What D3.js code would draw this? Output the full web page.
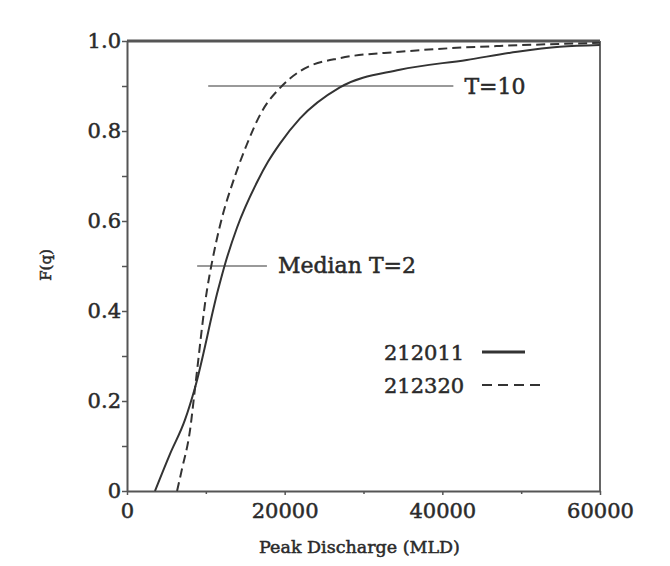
<!DOCTYPE html>
<html>
<head>
<meta charset="utf-8">
<script src="https://cdn.jsdelivr.net/npm/d3@7"></script>
<style>
  body { margin: 0; background: #fff; }
  text { font-family: "DejaVu Serif", serif; fill: #2a2a2a; stroke: #2a2a2a; stroke-width: 0.5px; }
</style>
</head>
<body>
<svg></svg>
<script>
// peak discharge (MLD) and cumulative probability F(q)
var q212011 = [3550, 5450, 7350, 8600, 11550, 12450, 13950, 16600, 17900, 19400, 21950, 27000, 34600, 43100, 49500, 54900, 60000];
var f212011 = [0, 0.082, 0.158, 0.228, 0.447, 0.505, 0.585, 0.69, 0.732, 0.772, 0.828, 0.897, 0.936, 0.958, 0.976, 0.987, 0.991];

var q212320 = [6350, 6950, 8000, 8600, 10150, 10800, 11800, 13700, 15200, 17000, 19650, 21950, 27000, 34600, 41000, 47300, 60000];
var f212320 = [0, 0.047, 0.136, 0.224, 0.447, 0.51, 0.59, 0.7, 0.77, 0.84, 0.9, 0.933, 0.962, 0.976, 0.984, 0.989, 0.996];

var xTicks = [0, 20000, 40000, 60000];
var xMinor = [10000, 30000, 50000];
var yTicks = [0, 0.2, 0.4, 0.6, 0.8, 1.0];
var yMinor = [0.1, 0.3, 0.5, 0.7, 0.9];

var seriesNames = ["212011", "212320"];

var viewWidth = 670, viewHeight = 566;
var margin = {top: 41, right: 70, bottom: 75, left: 127};
var width = viewWidth - margin.left - margin.right;
var height = viewHeight - margin.top - margin.bottom;

var svg = d3.select("svg")
    .attr("width", viewWidth)
    .attr("height", viewHeight)
    .append("g")
    .attr("transform", "translate(" + margin.left + "," + margin.top + ")");

var x = d3.scaleLinear().domain([0, 60000]).range([0, width]);
var y = d3.scaleLinear().domain([0, 1]).range([height, 0]);

// frame (top and right)
svg.append("line")
    .attr("x1", 0).attr("x2", width).attr("y1", 0).attr("y2", 0)
    .attr("stroke", "#555").attr("stroke-width", 3);
svg.append("line")
    .attr("x1", width).attr("x2", width).attr("y1", 0).attr("y2", height)
    .attr("stroke", "#666").attr("stroke-width", 2);

// minor ticks
svg.append("g")
    .attr("transform", "translate(0," + height + ")")
    .call(d3.axisBottom(x).tickValues(xMinor).tickSize(3).tickFormat(""))
    .call(g => g.select(".domain").remove());
svg.append("g")
    .call(d3.axisLeft(y).tickValues(yMinor).tickSize(5).tickFormat(""))
    .call(g => g.select(".domain").remove());

var xAxis = svg.append("g")
    .attr("transform", "translate(0," + height + ")")
    .call(d3.axisBottom(x).tickValues(xTicks).tickSize(4).tickSizeOuter(0).tickPadding(8).tickFormat(d3.format("d")));

var yAxis = svg.append("g")
    .call(d3.axisLeft(y).tickValues(yTicks).tickSize(5).tickSizeOuter(0).tickPadding(1)
        .tickFormat(function(d) { return d === 0 ? "0" : d3.format(".1f")(d); }));

[xAxis, yAxis].forEach(function(a) {
    a.select(".domain").attr("stroke", "#555").attr("stroke-width", 2);
    a.selectAll("text").style("font-size", "21px").attr("fill", "#2a2a2a");
});
svg.selectAll(".tick line").attr("stroke", "#555").attr("stroke-width", 1.5);

// axis titles
svg.append("text")
    .attr("x", width / 2 - 4)
    .attr("y", height + 62)
    .attr("text-anchor", "middle")
    .style("font-size", "17.5px")
    .text("Peak Discharge (MLD)");

svg.append("text")
    .attr("transform", "rotate(-90)")
    .attr("x", -(y(0.5) - 1))
    .attr("y", 51 - margin.left)
    .attr("text-anchor", "middle")
    .style("font-size", "15px")
    .text("F(q)");

// reference lines
svg.append("line")
    .attr("x1", x(10300)).attr("x2", x(41400))
    .attr("y1", y(0.9)).attr("y2", y(0.9))
    .attr("stroke", "#777").attr("stroke-width", 1.5);
svg.append("text")
    .attr("x", x(42800)).attr("y", y(0.9) + 8)
    .style("font-size", "22px")
    .text("T=10");

svg.append("line")
    .attr("x1", x(8900)).attr("x2", x(17750))
    .attr("y1", y(0.5)).attr("y2", y(0.5))
    .attr("stroke", "#777").attr("stroke-width", 1.5);
svg.append("text")
    .attr("x", x(19150)).attr("y", y(0.5) + 7)
    .style("font-size", "22px")
    .text("Median T=2");

// curves
var line = d3.line()
    .x(function(d) { return x(d[0]); })
    .y(function(d) { return y(d[1]); })
    .curve(d3.curveMonotoneX);

svg.append("path")
    .datum(d3.zip(q212011, f212011))
    .attr("fill", "none")
    .attr("stroke", "#333")
    .attr("stroke-width", 2)
    .attr("d", line);

svg.append("path")
    .datum(d3.zip(q212320, f212320))
    .attr("fill", "none")
    .attr("stroke", "#333")
    .attr("stroke-width", 2)
    .attr("stroke-dasharray", "9,5")
    .attr("d", line);

// legend
var dashes = [null, "10,6"];
var legendX = 384 - margin.left, legendY = 352 - margin.top;
seriesNames.forEach(function(name, i) {
    var ly = legendY + i * 33;
    svg.append("text")
        .attr("x", legendX).attr("y", ly + 8)
        .style("font-size", "21px")
        .text(name);
    svg.append("line")
        .attr("x1", legendX + 98).attr("x2", legendX + (i === 0 ? 141 : 156))
        .attr("y1", ly).attr("y2", ly)
        .attr("stroke", "#333")
        .attr("stroke-width", i === 0 ? 3 : 2)
        .attr("stroke-dasharray", dashes[i]);
});
</script>
</body>
</html>
